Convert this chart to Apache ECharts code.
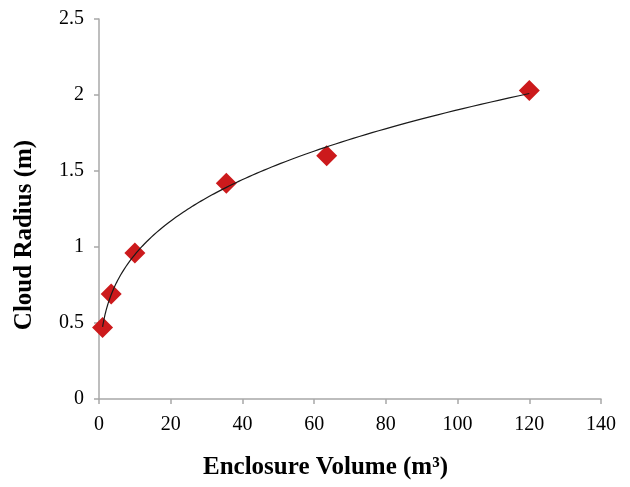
<!DOCTYPE html>
<html>
<head>
<meta charset="utf-8">
<script src="https://cdn.jsdelivr.net/npm/echarts@6/dist/echarts.min.js"></script>
<style>
  html, body { margin: 0; padding: 0; background: #fff; }
  #chart { width: 630px; height: 487px; }
</style>
</head>
<body>
<div id="chart"></div>
<script>
// Measured enclosure volumes (m³) and resulting cloud radii (m)
const volumes = [1, 3.4, 10, 35.5, 63.5, 120];
const radii   = [0.47, 0.69, 0.96, 1.42, 1.60, 2.03];

// Axis ranges
const xMin = 0, xMax = 140, xStep = 20;
const yMin = 0, yMax = 2.5, yStep = 0.5;

// Power-law trendline (y = a * x^b) fitted by least squares in log space
function powerFit(xs, ys) {
  const n = xs.length;
  let sx = 0, sy = 0, sxx = 0, sxy = 0;
  for (let i = 0; i < n; i++) {
    const lx = Math.log(xs[i]), ly = Math.log(ys[i]);
    sx += lx; sy += ly; sxx += lx * lx; sxy += lx * ly;
  }
  const b = (n * sxy - sx * sy) / (n * sxx - sx * sx);
  const a = Math.exp((sy - b * sx) / n);
  return { a, b };
}
const fit = powerFit(volumes, radii);
const lo = Math.min(...volumes), hi = Math.max(...volumes);
const trend = [];
const steps = 200;
for (let i = 0; i <= steps; i++) {
  // log-spaced samples: dense near the origin where the curve bends most
  const t = i / steps;
  const x = lo * Math.pow(hi / lo, t);
  trend.push([x, fit.a * Math.pow(x, fit.b)]);
}

const points = volumes.map((v, i) => [v, radii[i]]);
const serif = '"Liberation Serif", "Times New Roman", serif';
const axisGray = '#A8A8A8';

const chart = echarts.init(document.getElementById('chart'), null, { renderer: 'canvas' });
chart.setOption({
  animation: false,
  backgroundColor: '#ffffff',
  grid: { left: 99, right: 29, top: 19, bottom: 88, containLabel: false },
  xAxis: {
    type: 'value',
    min: xMin, max: xMax, interval: xStep,
    name: 'Enclosure Volume (m³)',
    nameLocation: 'middle',
    nameGap: 56,
    nameTextStyle: {
      fontFamily: serif, fontWeight: 'bold', fontSize: 25, color: '#000',
      padding: [0, 49, 0, 0]
    },
    axisLine: { show: true, lineStyle: { color: axisGray, width: 1.5 } },
    axisTick: { show: true, length: 5, lineStyle: { color: axisGray, width: 1.5 } },
    axisLabel: { fontFamily: serif, fontSize: 20, color: '#000', margin: 16 },
    splitLine: { show: false }
  },
  yAxis: {
    type: 'value',
    min: yMin, max: yMax, interval: yStep,
    name: 'Cloud Radius (m)',
    nameLocation: 'middle',
    nameGap: 62,
    nameRotate: 90,
    nameTextStyle: {
      fontFamily: serif, fontWeight: 'bold', fontSize: 25, color: '#000',
      padding: [0, 52, 0, 0]
    },
    axisLine: { show: true, lineStyle: { color: axisGray, width: 1.5 } },
    axisTick: { show: true, length: 5, lineStyle: { color: axisGray, width: 1.5 } },
    axisLabel: { fontFamily: serif, fontSize: 20, color: '#000', margin: 15 },
    splitLine: { show: false }
  },
  series: [
    {
      type: 'scatter',
      data: points,
      symbol: 'diamond',
      symbolSize: 21,
      itemStyle: { color: '#CC1A1C', opacity: 1 },
      z: 2
    },
    {
      type: 'line',
      data: trend,
      showSymbol: false,
      smooth: false,
      lineStyle: { color: '#1a1a1a', width: 1.2 },
      z: 3
    }
  ]
});
</script>
</body>
</html>
